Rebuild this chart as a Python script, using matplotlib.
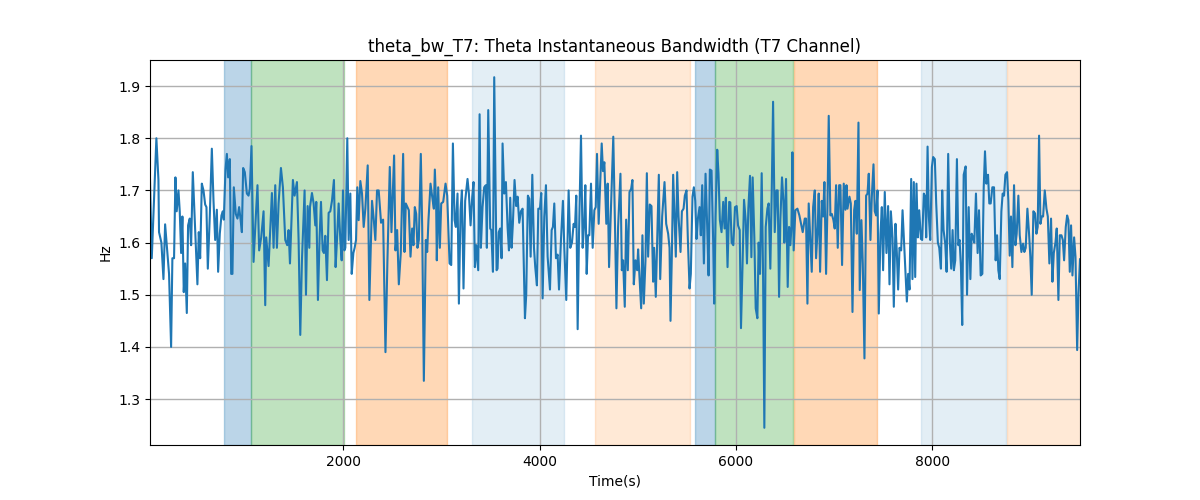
import matplotlib
matplotlib.use("Agg")
import matplotlib.pyplot as plt

time_s = [30, 48, 95, 116, 122, 146, 167, 184, 207, 224, 245, 258, 275, 289, 302, 320, 333, 347, 360, 374,
          388, 405, 418, 435, 449, 466, 486, 513, 527, 541, 558, 575, 592, 605, 619, 639, 660, 677, 694, 711,
          724, 741, 758, 772, 782, 799, 813, 826, 843, 857, 870, 884, 904, 921, 938, 952, 966, 979, 996, 1017,
          1034, 1047, 1064, 1085, 1108, 1125, 1142, 1163, 1187, 1204,
          1214, 1238, 1272, 1289, 1306, 1323, 1340, 1364, 1384, 1408, 1428, 1442, 1456, 1486, 1503, 1527, 1544,
          1561, 1578, 1605, 1619, 1636, 1653, 1660, 1680, 1697, 1714, 1724, 1741, 1758, 1772, 1789, 1802, 1816,
          1833, 1850, 1867, 1884, 1904, 1921, 1935, 1952, 1969, 1983, 1996, 2010, 2020, 2040, 2054, 2071, 2085,
          2102, 2115, 2129, 2142, 2156, 2173, 2190, 2207, 2224, 2248, 2265, 2292, 2309, 2326, 2343, 2360, 2384,
          2405, 2429, 2449, 2473, 2490, 2517, 2531, 2548, 2565, 2585, 2609, 2623, 2636, 2653, 2667, 2684, 2701,
          2714, 2728, 2742, 2755, 2769, 2789, 2803, 2820, 2840, 2854, 2867, 2888, 2905, 2922, 2932, 2946, 2952,
          2966, 2983, 2997, 3017, 3041, 3058, 3082, 3099, 3116, 3133, 3146, 3163, 3177, 3194, 3208, 3224, 3241,
          3265, 3279, 3296, 3313, 3326, 3340, 3354, 3374, 3388, 3401, 3418, 3435, 3452, 3462, 3476, 3496, 3507,
          3524, 3537, 3561,
          3571, 3583, 3598, 3612, 3622, 3639, 3656, 3673, 3687, 3700, 3714, 3727, 3744, 3761, 3775, 3792, 3809,
          3826, 3850, 3863, 3880, 3894, 3908, 3925, 3942, 3955, 3972, 3986, 4003, 4016, 4030, 4047, 4064, 4081,
          4105, 4122, 4135, 4149, 4166, 4183, 4197, 4217, 4237, 4251, 4271, 4295, 4312, 4329, 4346, 4360, 4373,
          4387, 4401, 4421, 4438, 4455, 4465, 4479, 4493, 4506, 4523, 4540, 4557, 4571, 4584, 4601, 4618, 4632,
          4645, 4659, 4679, 4693, 4707, 4727, 4750,
          4769, 4782, 4799, 4823, 4837, 4850, 4867, 4881, 4898, 4915, 4932, 4945, 4959, 4976, 4993, 5003, 5017,
          5034, 5047, 5061, 5078, 5092, 5105, 5122, 5139, 5156, 5166, 5183, 5197, 5214, 5228, 5248, 5272, 5289,
          5309, 5323, 5333, 5347, 5360, 5374, 5387, 5401, 5415, 5435, 5449, 5466, 5479, 5496, 5510, 5527, 5540,
          5557, 5571, 5585, 5598, 5612, 5629, 5642, 5656, 5673, 5690, 5707, 5721, 5734, 5751, 5768, 5778, 5792,
          5809, 5822, 5836, 5853, 5870, 5884, 5897, 5914, 5931, 5942,
          5956, 5973, 5990, 6007, 6021, 6038, 6051, 6068, 6082, 6099, 6112, 6126, 6143, 6157, 6170, 6187, 6201,
          6218, 6231, 6245, 6262, 6276, 6289, 6303, 6320, 6333, 6350, 6364, 6378, 6395, 6412, 6425, 6439, 6452,
          6469, 6483, 6493, 6510, 6527, 6541, 6554, 6565, 6575, 6588, 6605, 6626, 6646, 6663, 6680, 6701, 6714,
          6728, 6741, 6755, 6772, 6786, 6803, 6816, 6833, 6843, 6857, 6874, 6888, 6901, 6918, 6932, 6945, 6962,
          6976, 6993, 7006, 7020, 7037, 7051, 7064, 7081, 7098, 7115, 7126,
          7136, 7156, 7170, 7187, 7204, 7217, 7231, 7248, 7261, 7278, 7292, 7309, 7326, 7340, 7353, 7370, 7384,
          7401, 7414, 7428, 7442, 7455, 7472, 7486, 7499, 7516, 7533, 7550, 7564, 7578, 7595, 7608, 7625, 7639,
          7652, 7666, 7683, 7697, 7714, 7727, 7741, 7754, 7768, 7785, 7798, 7812, 7826, 7839, 7853, 7867, 7884,
          7897, 7914, 7928, 7938, 7952, 7965, 7979, 7996, 8009, 8026, 8040, 8057, 8071, 8088, 8101, 8115, 8132,
          8146, 8162, 8179, 8193, 8207, 8220, 8234, 8251, 8265, 8278, 8292, 8305,
          8320, 8340, 8354, 8371, 8388, 8401, 8415, 8428, 8445, 8462, 8476, 8493, 8510, 8524, 8537, 8551, 8568,
          8581, 8595, 8612, 8629, 8646, 8660, 8673, 8687, 8704, 8717, 8731, 8745, 8762, 8775, 8789, 8802, 8816,
          8833, 8847, 8860, 8877, 8891, 8908, 8925, 8938, 8952, 8969, 8986, 8999, 9013, 9030, 9047, 9061, 9074,
          9088, 9102, 9115, 9129, 9146, 9163, 9177, 9193, 9210, 9224, 9238, 9255, 9268, 9285, 9299, 9316, 9330,
          9343, 9360, 9374, 9387, 9401, 9414, 9428, 9445, 9459, 9476, 9489, 9505]

theta_bw_hz = [1.72, 1.57, 1.80, 1.72, 1.62, 1.60, 1.53, 1.635, 1.58, 1.54, 1.40, 1.57, 1.57, 1.725, 1.66, 1.70,
               1.66, 1.58, 1.65, 1.505, 1.56, 1.465, 1.633, 1.646, 1.595, 1.735, 1.643, 1.52, 1.62, 1.57, 1.713,
               1.70, 1.673, 1.668, 1.55, 1.65, 1.78, 1.68, 1.605, 1.663, 1.544, 1.617, 1.652, 1.66, 1.644, 1.74,
               1.77, 1.725, 1.76, 1.54, 1.54, 1.706, 1.655, 1.646, 1.668, 1.646, 1.62, 1.743, 1.735, 1.694, 1.69,
               1.703, 1.785, 1.563, 1.65, 1.71, 1.585, 1.61, 1.66, 1.48,
               1.61, 1.555, 1.695, 1.59, 1.71, 1.59, 1.675, 1.743, 1.706, 1.605, 1.595, 1.624, 1.56, 1.72, 1.69,
               1.716, 1.605, 1.423, 1.566, 1.70, 1.50, 1.67, 1.59, 1.668, 1.695, 1.675, 1.633, 1.678, 1.49, 1.61,
               1.678, 1.585, 1.58, 1.613, 1.528, 1.657, 1.66, 1.68, 1.72, 1.553, 1.605, 1.675, 1.605, 1.566, 1.70,
               1.585, 1.59, 1.80, 1.605, 1.694, 1.54, 1.58, 1.59, 1.605, 1.706, 1.643, 1.718, 1.694, 1.63, 1.665,
               1.748, 1.49, 1.68, 1.646, 1.605, 1.70, 1.70, 1.638,
               1.644, 1.39, 1.566, 1.745, 1.62, 1.767, 1.585, 1.624, 1.52, 1.58, 1.77, 1.582, 1.675, 1.668, 1.662,
               1.573, 1.627, 1.595, 1.668, 1.655, 1.59, 1.605, 1.77, 1.63, 1.335, 1.605, 1.582, 1.643, 1.713, 1.688,
               1.665, 1.74, 1.665, 1.566, 1.706, 1.59, 1.675, 1.678, 1.713, 1.69, 1.56, 1.557, 1.79, 1.643, 1.63,
               1.694, 1.483, 1.662, 1.70, 1.512, 1.68, 1.722, 1.694, 1.633, 1.688, 1.716, 1.553, 1.595, 1.547,
               1.846, 1.59, 1.668, 1.706, 1.71, 1.59, 1.854, 1.627, 1.624, 1.544, 1.917, 1.547,
               1.55, 1.62, 1.627, 1.57, 1.79, 1.694, 1.716, 1.63, 1.585, 1.686, 1.59, 1.636, 1.72, 1.67, 1.688,
               1.638, 1.66, 1.665, 1.455, 1.50, 1.69, 1.684, 1.573, 1.73, 1.59, 1.553, 1.518, 1.665, 1.665, 1.695,
               1.493, 1.65, 1.71, 1.573, 1.51, 1.624, 1.63, 1.675, 1.57, 1.577, 1.51, 1.605, 1.68, 1.59, 1.49,
               1.70, 1.59, 1.60, 1.636, 1.63, 1.69, 1.434, 1.617, 1.805, 1.59, 1.643, 1.71, 1.54, 1.614, 1.614,
               1.713, 1.59, 1.662, 1.668, 1.77, 1.636, 1.722, 1.79, 1.737, 1.754, 1.636, 1.713, 1.553, 1.668, 1.803,
               1.617, 1.474, 1.63, 1.732, 1.547, 1.566, 1.477, 1.644, 1.547, 1.697, 1.703, 1.72, 1.52, 1.566, 1.547,
               1.587, 1.534, 1.474, 1.614, 1.483, 1.566, 1.733, 1.573, 1.673, 1.67, 1.525, 1.59, 1.496, 1.605,
               1.73, 1.53, 1.65, 1.716, 1.636, 1.617, 1.59, 1.45, 1.58, 1.73, 1.65, 1.573, 1.735, 1.65, 1.582,
               1.66, 1.665, 1.69, 1.70, 1.605, 1.512, 1.54, 1.688, 1.706, 1.68, 1.607, 1.646, 1.668, 1.614, 1.71,
               1.56, 1.732, 1.63, 1.537, 1.74, 1.738, 1.60, 1.483, 1.65, 1.778, 1.732, 1.643, 1.62, 1.678, 1.627,
               1.686, 1.553, 1.678, 1.677,
               1.60, 1.595, 1.668, 1.67, 1.633, 1.624, 1.436, 1.566, 1.682, 1.643, 1.56, 1.665, 1.728, 1.572, 1.725,
               1.61, 1.474, 1.455, 1.60, 1.54, 1.733, 1.54, 1.245, 1.63, 1.665, 1.675, 1.55, 1.694, 1.87, 1.62,
               1.70, 1.70, 1.496, 1.643, 1.725, 1.68, 1.60, 1.722, 1.515, 1.63, 1.595, 1.63, 1.773, 1.585, 1.662,
               1.665, 1.652, 1.636, 1.62, 1.646, 1.646, 1.483, 1.675, 1.617, 1.544, 1.668, 1.70, 1.57, 1.63, 1.694,
               1.544, 1.68, 1.65, 1.716, 1.54, 1.668, 1.843, 1.652, 1.655, 1.643, 1.627, 1.71, 1.59, 1.71, 1.71,
               1.557, 1.713, 1.663, 1.71,
               1.665, 1.688, 1.675, 1.467, 1.662, 1.68, 1.617, 1.83, 1.509, 1.643, 1.56, 1.378, 1.69, 1.694, 1.732,
               1.605, 1.688, 1.75, 1.66, 1.652, 1.70, 1.464, 1.617, 1.668, 1.547, 1.697, 1.58, 1.67, 1.52, 1.66,
               1.61, 1.477, 1.636, 1.58, 1.51, 1.59, 1.585, 1.662, 1.595, 1.54, 1.487, 1.54, 1.51, 1.722, 1.53,
               1.716, 1.534, 1.713, 1.61, 1.662, 1.607, 1.605, 1.694, 1.688, 1.61, 1.784, 1.65, 1.605, 1.745, 1.764,
               1.76, 1.675, 1.60, 1.59, 1.55, 1.70, 1.624, 1.598, 1.544, 1.77, 1.60, 1.55, 1.624, 1.547, 1.566,
               1.76, 1.595, 1.605, 1.553, 1.442,
               1.73, 1.746, 1.50, 1.668, 1.53, 1.617, 1.61, 1.60, 1.694, 1.58, 1.662, 1.537, 1.54, 1.706, 1.775,
               1.713, 1.73, 1.675, 1.675, 1.706, 1.706, 1.566, 1.614, 1.547, 1.53, 1.66, 1.694, 1.69, 1.73, 1.735,
               1.68, 1.575, 1.65, 1.553, 1.71, 1.595, 1.617, 1.69, 1.614, 1.582, 1.598, 1.582, 1.59, 1.665, 1.617,
               1.573, 1.50, 1.66, 1.656, 1.617, 1.63, 1.805, 1.636, 1.65, 1.65, 1.70, 1.665, 1.65, 1.56, 1.646,
               1.525, 1.58, 1.60, 1.627, 1.49, 1.614, 1.614, 1.605, 1.566, 1.63, 1.652, 1.643, 1.544, 1.633, 1.537,
               1.61, 1.573, 1.394, 1.50, 1.568]

# shaded intervals (seconds)
span_start = [786, 1061, 2133, 3313, 4561, 5582, 5791, 6589, 7888, 8762]
span_end = [1054, 2005, 3058, 4252, 5531, 5789, 6582, 7436, 8752, 9600]
span_kind = ["C0", "C2", "C1", "C0", "C1", "C0", "C2", "C1", "C0", "C1"]
span_strength = ["strong", "strong", "strong", "light", "light", "strong", "strong", "strong", "light", "light"]

alpha_map = {("strong", "C0"): 0.3, ("strong", "C1"): 0.3, ("strong", "C2"): 0.3,
             ("light", "C0"): 0.12, ("light", "C1"): 0.17}

fig, ax = plt.subplots(figsize=(12, 5), dpi=100)

for s, e, c, k in zip(span_start, span_end, span_kind, span_strength):
    ax.axvspan(s, e, color=c, alpha=alpha_map[(k, c)])

ax.plot(time_s, theta_bw_hz, color="C0", linewidth=1.5)

ax.set_xlim(time_s[0], time_s[-1])
ax.set_ylim(1.212, 1.950)
ax.set_xticks([2000, 4000, 6000, 8000])
ax.set_yticks([1.3, 1.4, 1.5, 1.6, 1.7, 1.8, 1.9])
ax.grid(True, color="#b0b0b0", linewidth=1.0)
ax.set_title("theta_bw_T7: Theta Instantaneous Bandwidth (T7 Channel)")
ax.set_xlabel("Time(s)")
ax.set_ylabel("Hz")

fig.savefig("out.png", dpi=100)
